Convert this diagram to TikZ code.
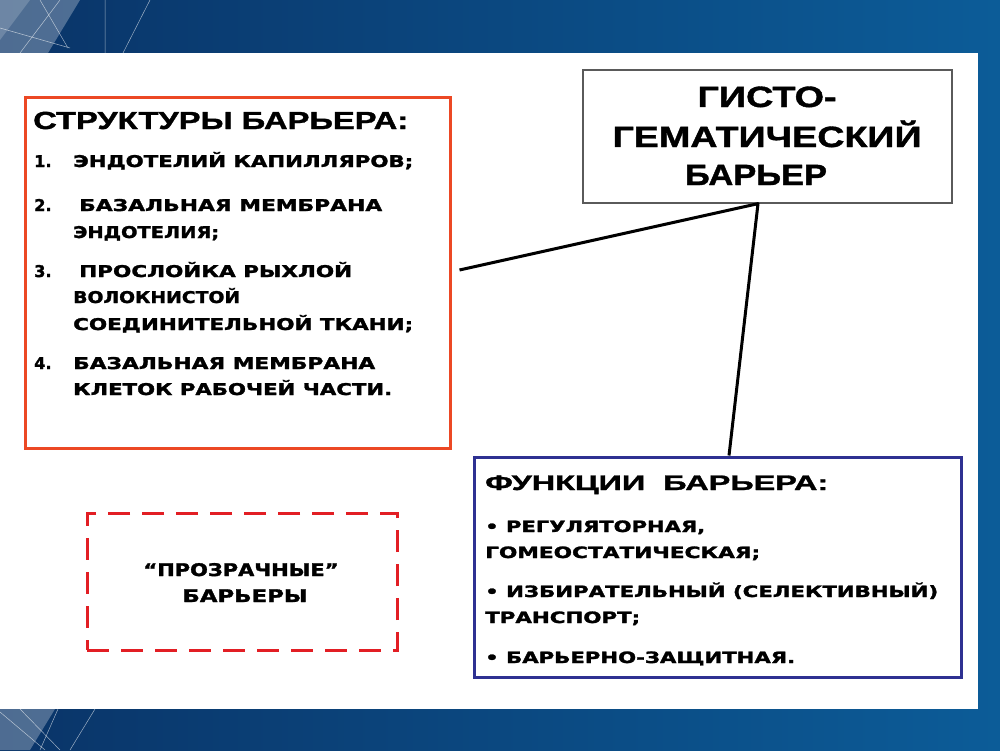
\documentclass[tikz,border=0pt]{standalone}
\usepackage{fontspec}
\usepackage{graphicx}
\newfontfamily\hdfont[BoldFeatures={FakeBold=1.2}]{Liberation Sans}
\newfontfamily\txfont[BoldFeatures={FakeBold=1.6}]{DejaVu Sans}
\newcommand\fitw[2]{\resizebox{#1}{\height}{#2}}
\definecolor{bgdark}{RGB}{10,52,104}
\definecolor{bglight}{RGB}{12,92,152}
\definecolor{redbord}{RGB}{236,72,36}
\definecolor{dashred}{RGB}{226,30,36}
\definecolor{bluebord}{RGB}{46,49,146}
\definecolor{graybord}{RGB}{90,90,90}
\tikzset{
  txt/.style={inner sep=0pt, text=black},
  lt/.style={txt, anchor=base west},
  ct/.style={txt, anchor=base},
  redhead/.style={font={\hdfont\bfseries\fontsize{24.7}{28}\selectfont}},
  redlist/.style={font={\txfont\bfseries\fontsize{16.2}{19}\selectfont}},
  titlef/.style={font={\hdfont\bfseries\fontsize{29.3}{34}\selectfont}},
  bluehead/.style={font={\hdfont\bfseries\fontsize{21}{24}\selectfont}},
  bluelist/.style={font={\txfont\bfseries\fontsize{15.6}{18}\selectfont}},
  dashf/.style={font={\txfont\bfseries\fontsize{17.4}{20}\selectfont}},
  box/.style={rectangle, inner sep=0pt, fill=white},
  conn/.style={draw=black, line width=3pt, line join=round},
}
\begin{document}
\begin{tikzpicture}[x=1pt,y=-1pt]
\useasboundingbox (0,0) rectangle (1000,750);
% background
\shade[left color=bgdark, right color=bglight] (0,0) rectangle (1000,750);
\fill[white, opacity=0.28] (0,0) -- (80,0) -- (48,53) -- (0,53) -- cycle;
\fill[white, opacity=0.18] (0,0) -- (30,0) -- (0,40) -- cycle;
\draw[white, opacity=0.6, line width=0.5pt] (0,28) -- (70,48) (40,0) -- (68,48) (150,0) -- (123,53) (105,0) -- (105,53) (60,0) -- (20,53);
\fill[white, opacity=0.28] (0,709) -- (55,709) -- (30,750) -- (0,750) -- cycle;
\draw[white, opacity=0.6, line width=0.5pt] (0,712) -- (45,750) (58,709) -- (40,750) (95,709) -- (70,750) (20,709) -- (60,750);
\fill[white] (0,53) rectangle (978,709);

% boxes
\node[box, draw=redbord, line width=3pt, minimum width=425pt, minimum height=351pt] (struct) at (237.5,272.5) {};
\node[box, draw=graybord, line width=1.3pt, minimum width=369pt, minimum height=133pt] (title) at (767.5,136.5) {};
\node[box, draw=bluebord, line width=3pt, minimum width=487pt, minimum height=220pt] (func) at (717.5,567) {};
\node[box, draw=dashred, line width=3pt, dash pattern=on 22pt off 12pt, minimum width=310pt, minimum height=137pt] (clear) at (242,581.5) {};

% connectors
\coordinate (apex) at ([xshift=-9.5pt]title.south);
\draw[conn] ([shift={(8pt,2.5pt)}]struct.east) -- (apex) -- ([xshift=11.5pt]func.north);

% title
\node[ct, titlef] (t1) at (767,107) {\fitw{139pt}{ГИСТО-}};
\node[ct, titlef] (t2) at (767,147) {\fitw{309pt}{ГЕМАТИЧЕСКИЙ}};
\node[ct, titlef] (t3) at (756,185) {\fitw{142pt}{БАРЬЕР}};

% structures
\node[lt, redhead] (s0) at (33,129) {\fitw{375pt}{СТРУКТУРЫ БАРЬЕРА:}};
\node[lt, redlist] (n1) at (34,167) {1.};
\node[lt, redlist] (s1) at (73,167) {\fitw{340pt}{ЭНДОТЕЛИЙ КАПИЛЛЯРОВ;}};
\node[lt, redlist] (n2) at (34,211) {2.};
\node[lt, redlist] (s2a) at (79,211) {\fitw{303pt}{БАЗАЛЬНАЯ МЕМБРАНА}};
\node[lt, redlist] (s2b) at (73,238) {\fitw{146pt}{ЭНДОТЕЛИЯ;}};
\node[lt, redlist] (n3) at (34,277) {3.};
\node[lt, redlist] (s3a) at (79,277) {\fitw{273pt}{ПРОСЛОЙКА РЫХЛОЙ}};
\node[lt, redlist] (s3b) at (73,303) {\fitw{167pt}{ВОЛОКНИСТОЙ}};
\node[lt, redlist] (s3c) at (73,330) {\fitw{340pt}{СОЕДИНИТЕЛЬНОЙ ТКАНИ;}};
\node[lt, redlist] (n4) at (34,369) {4.};
\node[lt, redlist] (s4a) at (73,369) {\fitw{302pt}{БАЗАЛЬНАЯ МЕМБРАНА}};
\node[lt, redlist] (s4b) at (73,395) {\fitw{319pt}{КЛЕТОК РАБОЧЕЙ ЧАСТИ.}};

% functions
\node[lt, bluehead] (f0) at (485,490) {\fitw{343pt}{ФУНКЦИИ\ \ БАРЬЕРА:}};
\node[lt, bluelist] (f1a) at (485,532) {\fitw{220pt}{• РЕГУЛЯТОРНАЯ,}};
\node[lt, bluelist] (f1b) at (485,558) {\fitw{275pt}{ГОМЕОСТАТИЧЕСКАЯ;}};
\node[lt, bluelist] (f2a) at (485,597) {\fitw{453pt}{• ИЗБИРАТЕЛЬНЫЙ (СЕЛЕКТИВНЫЙ)}};
\node[lt, bluelist] (f2b) at (485,623) {\fitw{155pt}{ТРАНСПОРТ;}};
\node[lt, bluelist] (f3) at (485,663) {\fitw{310pt}{• БАРЬЕРНО-ЗАЩИТНАЯ.}};

% transparent barriers
\node[ct, dashf] (c1) at (241,576) {\fitw{195pt}{“ПРОЗРАЧНЫЕ”}};
\node[ct, dashf] (c2) at (245,602) {\fitw{125pt}{БАРЬЕРЫ}};
\end{tikzpicture}
\end{document}
